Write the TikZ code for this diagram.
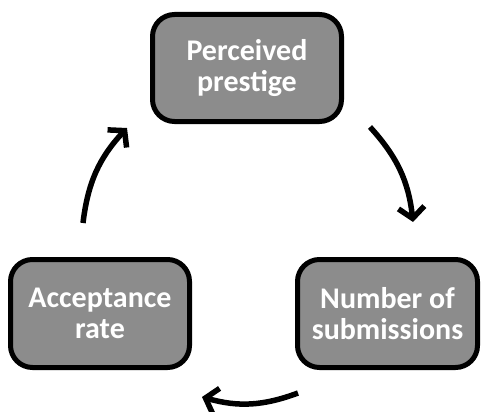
\documentclass[tikz,border=0pt]{standalone}
\usepackage{fontspec}
\setmainfont{Carlito}
\usetikzlibrary{arrows.meta}
\definecolor{boxgray}{RGB}{140,140,140}
\tikzset{
  box/.style={draw=black, line width=5pt, fill=boxgray, rounded corners=22pt,
    align=center, text=white, font=\fontsize{30}{30.5}\selectfont\bfseries, inner sep=0pt},
  cyc/.style={line width=5.5pt, -{Straight Barb[length=11pt,width=26pt,line width=5.5pt]}, bend left=18}
}
\begin{document}
\begin{tikzpicture}[x=1pt,y=-1pt]
\useasboundingbox (0,0) rectangle (487,412);
\node[box, minimum width=189pt, minimum height=107pt] (pp) at (247,68) {Perceived\\prestige};
\node[box, minimum width=179pt, minimum height=108pt] (ar) at (100,313.5) {Acceptance\\rate};
\node[box, minimum width=180pt, minimum height=108pt] (ns) at (387.5,313.5) {Number of\\submissions};
\coordinate (a1) at (83,223);
\coordinate (a2) at (127,128);
\coordinate (b1) at (370,127);
\coordinate (b2) at (413,222);
\coordinate (c1) at (298,393);
\coordinate (c2) at (202,397);
\draw[cyc] (a1) to (a2);
\draw[cyc] (b1) to (b2);
\draw[cyc] (c1) to (c2);
\end{tikzpicture}
\end{document}
